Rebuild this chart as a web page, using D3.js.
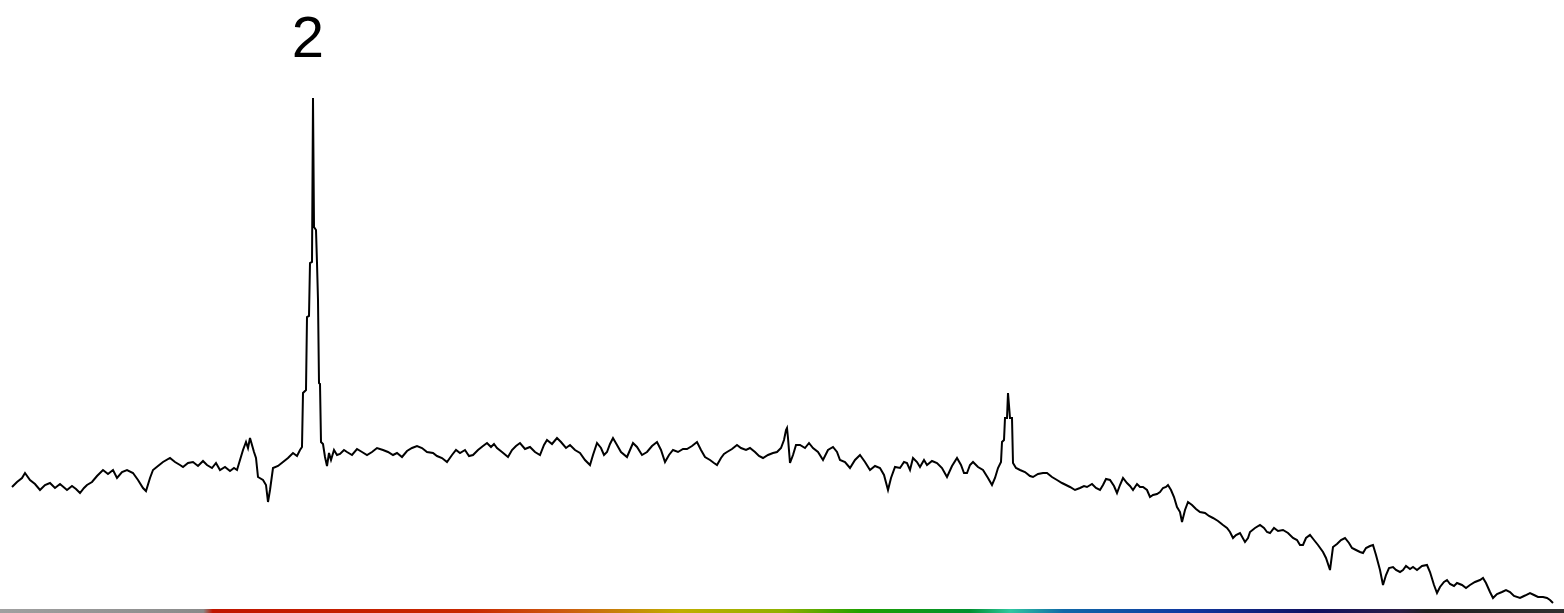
<!DOCTYPE html>
<html><head><meta charset="utf-8">
<script src="https://cdn.jsdelivr.net/npm/d3@7"></script>
<style>html,body{margin:0;padding:0;background:#fff;overflow:hidden}svg{display:block}</style>
</head><body>
<script>
// spectrum: [channel, intensity]
const spectrum = [
[12,113],[17,118],[22,122],[25,127],[30,120],[35,116],[40,110],[45,115],[50,117],[55,112],[60,116],[67,110],[72,114],[76,111],[80,107],[84,112],[87,115],[92,118],[97,124],[103,130],[108,126],[113,130],[117,122],[122,128],[127,130],[133,127],[138,120],[143,112],[146,109],[150,122],[153,130],[158,134],[163,138],[170,142],[175,138],[180,135],[183,133],[188,137],[193,138],[198,134],[203,139],[207,135],[212,132],[216,137],[220,130],[225,133],[230,129],[234,132],[237,130],[240,140],[243,150],[246,158],[248,152],[250,162],[252,155],[254,148],[256,142],[258,123],[263,120],[266,115],[268,98],[270,110],[273,132],[278,134],[283,138],[288,142],[293,147],[297,144],[300,150],[302,153],[303,207],[306,210],[307,283],[309,284],[310,337],[312,338],[313,502],[314,373],[316,370],[317,337],[318,300],[319,217],[320,216],[321,158],[323,156],[325,143],[327,134],[329,147],[331,140],[334,150],[337,145],[340,146],[344,150],[347,148],[352,145],[357,151],[362,148],[367,145],[372,148],[377,152],[383,150],[388,148],[393,145],[397,147],[402,143],[407,149],[412,152],[417,154],[422,152],[427,148],[433,147],[437,144],[442,142],[447,138],[452,145],[456,150],[460,147],[465,150],[469,144],[473,145],[478,150],[483,154],[487,157],[491,153],[494,156],[497,152],[502,148],[508,143],[512,150],[516,154],[520,157],[525,151],[530,153],[535,148],[540,145],[544,155],[547,160],[552,156],[557,162],[561,158],[566,152],[570,155],[575,150],[580,147],[585,140],[590,135],[593,145],[597,157],[601,152],[604,145],[607,148],[610,156],[613,162],[617,155],[621,148],[627,143],[630,150],[633,157],[637,153],[642,145],[647,148],[652,154],[657,158],[661,150],[665,138],[669,145],[673,150],[678,148],[683,151],[687,151],[692,154],[697,158],[701,150],[705,143],[710,140],[714,137],[717,135],[721,142],[724,146],[727,148],[732,151],[737,155],[741,152],[746,150],[750,152],[755,148],[759,144],[763,142],[768,145],[773,147],[777,148],[781,152],[784,160],[786,170],[787,172],[788,162],[790,137],[793,145],[796,155],[800,155],[805,152],[809,157],[813,152],[818,148],[823,140],[828,150],[833,153],[837,148],[840,140],[845,138],[850,132],[855,140],[860,145],[865,138],[870,130],[875,134],[880,132],[884,125],[888,110],[891,122],[895,133],[900,132],[904,138],[907,137],[910,130],[913,142],[917,138],[920,133],[924,140],[927,135],[932,139],[937,137],[942,132],[947,123],[952,134],[957,142],[961,135],[964,127],[967,127],[970,135],[973,138],[978,133],[983,130],[988,122],[992,115],[995,122],[998,132],[1001,138],[1002,158],[1004,160],[1005,182],[1007,182],[1008,207],[1010,182],[1012,182],[1013,137],[1016,132],[1020,130],[1025,128],[1030,124],[1033,123],[1038,126],[1043,127],[1047,127],[1052,123],[1057,120],[1062,117],[1066,115],[1070,113],[1075,110],[1080,112],[1084,114],[1087,113],[1092,116],[1096,112],[1100,110],[1103,115],[1106,121],[1110,120],[1114,114],[1117,107],[1120,115],[1123,122],[1127,117],[1130,114],[1133,110],[1137,116],[1140,113],[1143,113],[1147,110],[1150,103],[1153,105],[1157,106],[1160,108],[1163,112],[1166,113],[1168,115],[1171,110],[1174,103],[1177,93],[1180,88],[1182,78],[1185,90],[1188,98],[1192,95],[1196,91],[1200,88],[1205,87],[1209,84],[1213,82],[1218,79],[1223,75],[1227,72],[1230,68],[1233,62],[1236,65],[1240,67],[1245,58],[1248,62],[1250,68],[1255,72],[1260,75],[1264,72],[1267,68],[1270,67],[1274,72],[1278,69],[1283,70],[1288,67],[1293,62],[1297,60],[1300,55],[1303,55],[1306,62],[1310,65],[1314,60],[1318,55],[1323,48],[1326,42],[1330,30],[1333,53],[1337,56],[1341,60],[1345,62],[1349,57],[1352,52],[1356,50],[1360,48],[1363,47],[1366,52],[1370,54],[1373,55],[1376,45],[1380,30],[1383,15],[1386,25],[1389,32],[1393,33],[1396,30],[1400,28],[1403,30],[1406,34],[1410,31],[1413,33],[1417,30],[1422,34],[1427,35],[1430,28],[1434,15],[1437,7],[1440,13],[1444,18],[1447,20],[1450,16],[1454,14],[1457,17],[1462,15],[1466,12],[1470,15],[1475,18],[1480,20],[1483,22],[1486,17],[1490,8],[1493,2],[1497,6],[1502,8],[1506,10],[1510,8],[1514,4],[1520,2],[1524,4],[1530,7],[1534,5],[1538,3],[1543,3],[1547,2],[1550,0],[1553,-3]
];
const peakLabels = [{channel: 308, text: "2"}];
const bandOffsets = [0, 0.13, 0.136, 0.3, 0.36, 0.435, 0.5, 0.55, 0.62, 0.646, 0.68, 0.76, 0.84, 0.895, 0.912, 1];
const bandColors = ["#a0a0a0","#8a8a8a","#c01500","#c82800","#cc5a10","#c0ae00","#90b000","#20a000","#009030","#30c8a0","#1068a8","#1038a0","#101060","#2a1e48","#202020","#303030"];

const W = 1564, H = 613;
const svg = d3.select("body").append("svg").attr("width", W).attr("height", H);
const x = d3.scaleLinear().domain([0, 1564]).range([0, W]);
const y = d3.scaleLinear().domain([0, 500]).range([600, 100]);

const grad = svg.append("defs").append("linearGradient").attr("id", "band")
  .attr("x1", "0%").attr("x2", "100%").attr("y1", "0%").attr("y2", "0%");
bandOffsets.forEach((o, i) => grad.append("stop").attr("offset", o).attr("stop-color", bandColors[i]));
svg.append("rect").attr("x", x(0)).attr("y", 609).attr("width", x(1564) - x(0)).attr("height", 4).attr("fill", "url(#band)");

svg.append("path").datum(spectrum)
  .attr("d", d3.line().x(d => x(d[0])).y(d => y(d[1])))
  .attr("fill", "none").attr("stroke", "#000").attr("stroke-width", 2)
  .attr("stroke-linejoin", "miter");

svg.selectAll("text.lab").data(peakLabels).enter().append("text")
  .attr("class", "lab").attr("x", d => x(d.channel)).attr("y", 57)
  .attr("text-anchor", "middle").attr("font-family", "Liberation Sans, Arial, sans-serif")
  .attr("font-size", 58).attr("fill", "#000").text(d => d.text);
</script>
</body></html>
